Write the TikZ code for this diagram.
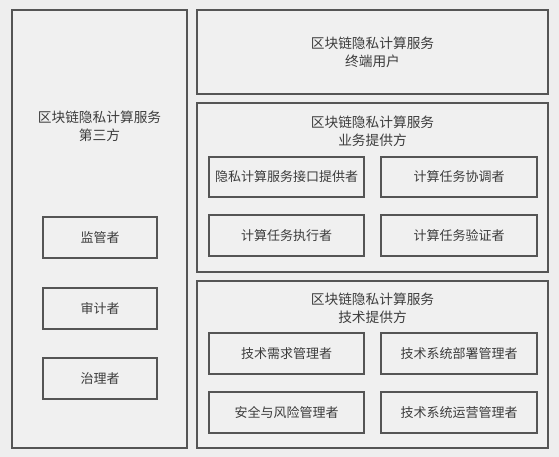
\documentclass[tikz,border=0pt]{standalone}
\usepackage{fontspec}
\setmainfont{Noto Sans CJK SC}
\definecolor{bgc}{HTML}{EEEEEE}
\definecolor{boxc}{HTML}{F0F0F0}
\definecolor{linec}{HTML}{555555}
\definecolor{txtc}{HTML}{3C3C3C}
\tikzset{
  frame/.style={draw=linec, line width=1.1pt, fill=boxc, inner sep=0pt},
  role/.style={draw=linec, line width=1.1pt, fill=boxc, inner sep=0pt, font=\fontsize{13pt}{17pt}\selectfont, text=txtc},
  caption/.style={align=center, font=\fontsize{13.7pt}{18pt}\selectfont, text=txtc, inner sep=0pt}
}
\begin{document}
\begin{tikzpicture}[x=1pt,y=-1pt]
\fill[bgc] (0,0) rectangle (559,457);
\useasboundingbox (0,0) rectangle (559,457);
% big frames
\node[frame, minimum width=175pt, minimum height=438pt] (third) at (99.5,229) {};
\node[frame, minimum width=351pt, minimum height=84pt] (user) at (372.5,52) {};
\node[frame, minimum width=351pt, minimum height=169pt] (biz) at (372.5,187.5) {};
\node[frame, minimum width=351pt, minimum height=167pt] (tech) at (372.5,364.5) {};
% captions
\node[caption] (thirdt) at (99.5,126) {区块链隐私计算服务\\第三方};
\node[caption] (usert) at (372.5,52.5) {区块链隐私计算服务\\终端用户};
\node[caption] (bizt) at (372.5,131) {区块链隐私计算服务\\业务提供方};
\node[caption] (techt) at (372.5,308.5) {区块链隐私计算服务\\技术提供方};
% left roles
\node[role, minimum width=114pt, minimum height=41pt] (sup) at (100,237.5) {监管者};
\node[role, minimum width=114pt, minimum height=41pt] (aud) at (100,308.5) {审计者};
\node[role, minimum width=114pt, minimum height=41pt] (gov) at (100,378.5) {治理者};
% business roles
\node[role, minimum width=155pt, minimum height=40pt] (api) at (286.5,177) {隐私计算服务接口提供者};
\node[role, minimum width=156pt, minimum height=40pt] (coord) at (459,177) {计算任务协调者};
\node[role, minimum width=155pt, minimum height=41pt] (exec) at (286.5,235.5) {计算任务执行者};
\node[role, minimum width=156pt, minimum height=41pt] (verif) at (459,235.5) {计算任务验证者};
% technical roles
\node[role, minimum width=155pt, minimum height=41pt] (req) at (286.5,353.5) {技术需求管理者};
\node[role, minimum width=156pt, minimum height=41pt] (dep) at (459,353.5) {技术系统部署管理者};
\node[role, minimum width=155pt, minimum height=41pt] (risk) at (286.5,412.5) {安全与风险管理者};
\node[role, minimum width=156pt, minimum height=41pt] (ops) at (459,412.5) {技术系统运营管理者};
\end{tikzpicture}
\end{document}
